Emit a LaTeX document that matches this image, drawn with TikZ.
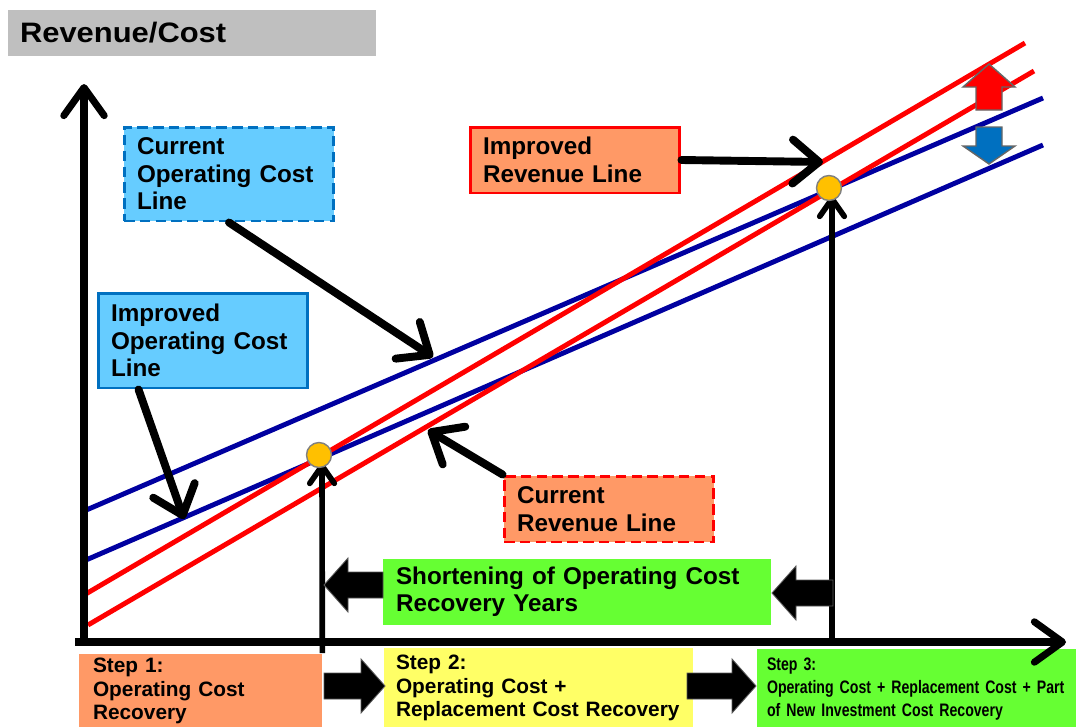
\documentclass[tikz,border=0pt]{standalone}
\usepackage{fontspec}
\setmainfont{Liberation Sans}
\newfontfamily\narrowfont[FakeStretch=0.78, WordSpace=0.7]{Liberation Sans}
\newfontfamily\widefont[FakeStretch=1.1]{Liberation Sans}
\usepackage{tikz}
\usetikzlibrary{arrows.meta,calc}
\usepackage{xcolor}

\definecolor{navyline}{RGB}{0,0,160}
\definecolor{boxblue}{RGB}{102,204,255}
\definecolor{edgeblue}{RGB}{0,112,192}
\definecolor{boxorange}{RGB}{255,153,102}
\definecolor{boxgreen}{RGB}{102,255,51}
\definecolor{boxyellow}{RGB}{255,255,102}
\definecolor{dotgold}{RGB}{255,192,0}
\definecolor{titlegray}{RGB}{191,191,191}

\begin{document}
\begin{tikzpicture}[
    x=0.02cm, y=-0.02cm,
    titlebox/.style={fill=titlegray, text width=6.88cm, inner xsep=0.24cm, minimum height=0.92cm,
      align=left, font=\widefont\bfseries\fontsize{16}{18}\selectfont},
    callout/.style={draw, line width=1.7pt, text width=3.68cm, inner xsep=0.26cm, inner ysep=0pt,
      align=left, font=\bfseries\fontsize{13.8}{15.6}\selectfont},
    costbox/.style={callout, fill=boxblue, draw=edgeblue},
    revbox/.style={callout, fill=boxorange, draw=red},
    dashbox/.style={dash pattern=on 6pt off 3pt},
    stepbox/.style={inner ysep=0pt, align=left, font=\bfseries\fontsize{11.85}{13.3}\selectfont},
    costline/.style={navyline, line width=2.8pt},
    revline/.style={red, line width=2.8pt},
    axis/.style={line width=4pt, -{Straight Barb[length=16pt, width=23pt, round]}},
    pointer/.style={line width=4.5pt, line cap=round, -{Straight Barb[length=15pt, width=25pt, round]}},
    riser/.style={line width=3.2pt, -{Straight Barb[length=10pt, width=14pt, round]}},
    blk/.style={fill=black, draw=gray!70!black, line width=0.5pt},
    updown/.style={draw=gray!80!black, line width=0.8pt},
    dot/.style={circle, fill=dotgold, draw=gray, line width=0.8pt, minimum size=0.5cm, inner sep=0pt}
  ]
  \useasboundingbox (0,0) rectangle (1076,727);

  %% Title
  \node[titlebox] (title) at (192,33) {Revenue/Cost};

  %% Step boxes under the axis
  \node[stepbox, fill=boxorange, text width=4.3cm, inner xsep=0.28cm, minimum height=1.5cm]
    (step1) at (200.5,691) {Step 1:\\Operating Cost\\Recovery};
  \node[stepbox, fill=boxyellow, text width=5.7cm, inner xsep=0.24cm, minimum height=1.6cm]
    (step2) at (538.5,688) {Step 2:\\Operating Cost +\\Replacement Cost Recovery};
  \node[stepbox, fill=boxgreen, text width=5.98cm, inner xsep=0.2cm, minimum height=1.6cm,
    font=\narrowfont\bfseries\fontsize{10.3}{13.3}\selectfont]
    (step3) at (916.5,689) {Step 3:\\Operating Cost + Replacement Cost + Part\\of New Investment Cost Recovery};

  %% Cost and revenue lines
  \draw[costline] (84,511) -- (1043,98);   % current cost
  \draw[costline] (86,560) -- (1043,145);  % improved cost
  \draw[revline]  (84,595) -- (1025,43);   % improved revenue
  \draw[revline]  (88,625) -- (1034,71);   % current revenue

  %% Axes
  \coordinate (orig) at (84,645);
  \coordinate (xstart) at (75,642);
  \coordinate (ytip) at (84,84);
  \coordinate (xtip) at (1066,642);
  \draw[axis] (orig) -- (ytip);
  \draw[axis] (xstart) -- (xtip);

  %% Callout boxes
  \node[costbox, dashbox, minimum height=1.88cm] (curcost) at (229,174) {Current\\Operating Cost\\Line};
  \node[costbox, minimum height=1.9cm] (impcost) at (203,340.5) {Improved\\Operating Cost\\Line};
  \node[revbox, minimum height=1.32cm] (imprev) at (575,160) {Improved\\Revenue Line};
  \node[revbox, dashbox, minimum height=1.32cm] (currev) at (609,509) {Current\\Revenue Line};
  \node[callout, draw=none, fill=boxgreen, text width=7.24cm, minimum height=1.32cm]
    (shorten) at (577,592) {Shortening of Operating Cost\\Recovery Years};

  %% Pointers to the lines
  \coordinate (onA) at (433,357);
  \coordinate (onB) at (184,519);
  \coordinate (onC) at (428,430);
  \coordinate (onD) at (823,162);
  \draw[pointer] (curcost.south) -- (onA);
  \draw[pointer] ([xshift=0.84cm]impcost.south west) -- (onB);
  \draw[pointer] (currev.north west) -- (onC);
  \draw[pointer] (imprev.east) -- (onD);

  %% Break-even risers
  \coordinate (hitA) at (322,463);
  \coordinate (footB) at (832,640);
  \coordinate (hitB) at (832,196);
  \draw[riser] (step1.north east) -- (hitA);
  \draw[riser] (footB) -- (hitB);

  %% Block arrows
  \foreach \tx/\ty/\len/\dir in {324/585/59/1, 772/593/61/1, 385/686/61/-1, 756/686/69/-1}{
    \filldraw[blk] (\tx,\ty) -- ++(24*\dir,-27) -- ++(0,14) -- ++({(\len-24)*\dir},0)
      -- ++(0,26) -- ++({(24-\len)*\dir},0) -- ++(0,14) -- cycle;
  }

  %% Up / down shift arrows
  \filldraw[updown, fill=red] (989,64) -- (1015,87) -- (1002,87) -- (1002,110)
    -- (976,110) -- (976,87) -- (963,87) -- cycle;
  \filldraw[updown, fill=edgeblue] (976,127) -- (1002,127) -- (1002,146) -- (1015,146)
    -- (989,164) -- (963,146) -- (976,146) -- cycle;

  %% Break-even points
  \node[dot] (dotA) at (319,455) {};
  \node[dot] (dotB) at (829,188) {};

\end{tikzpicture}
\end{document}
